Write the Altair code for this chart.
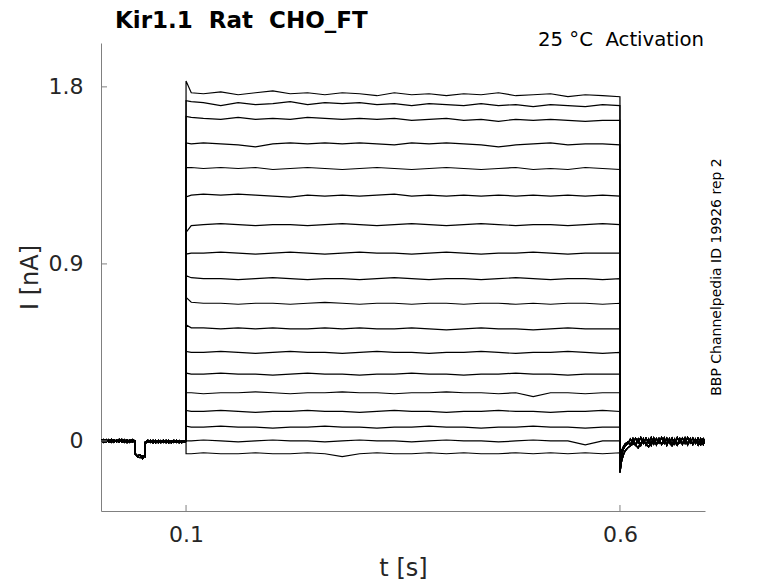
import altair as alt
import pandas as pd

# ---- time grids (s) ----
pre_t = [0.002, 0.005, 0.008, 0.011, 0.014, 0.017, 0.02, 0.023, 0.026, 0.029, 0.032, 0.035,
         0.038, 0.041, 0.041, 0.044, 0.047, 0.05, 0.053, 0.053, 0.056, 0.059, 0.062, 0.065,
         0.068, 0.071, 0.074, 0.077, 0.08, 0.083, 0.086, 0.089, 0.092, 0.095, 0.098, 0.1]
step_t = [0.1, 0.106, 0.12, 0.14, 0.16, 0.18, 0.2, 0.22, 0.24, 0.26, 0.28, 0.3, 0.32, 0.34,
          0.36, 0.38, 0.4, 0.42, 0.44, 0.46, 0.48, 0.5, 0.52, 0.54, 0.56, 0.58, 0.6]
tail_t = [0.6, 0.602, 0.604, 0.606, 0.609, 0.612, 0.615, 0.618, 0.621, 0.624, 0.627, 0.63,
          0.633, 0.636, 0.639, 0.642, 0.645, 0.648, 0.651, 0.654, 0.657, 0.66, 0.663, 0.666,
          0.669, 0.672, 0.675, 0.678, 0.681, 0.684, 0.687, 0.69, 0.693, 0.696, 0.698]

# ---- baseline before the step (nA) ----
pre_a = [0.0, 0.008, -0.006, 0.007, -0.007, 0.006, -0.005, 0.008, -0.006, 0.007, -0.008, 0.006,
         -0.005, 0.0, -0.065, -0.075, -0.07, -0.09, -0.07, -0.01, -0.006, 0.004, -0.01, 0.003,
         -0.009, 0.002, -0.008, 0.003, -0.01, 0.001, -0.008, 0.003, -0.009, 0.001, -0.007, -0.002]
pre_b = [0.006, -0.007, 0.007, -0.006, 0.008, -0.007, 0.006, -0.006, 0.008, -0.007, 0.006, -0.007,
         0.007, 0.0, -0.06, -0.08, -0.085, -0.075, -0.08, -0.005, 0.004, -0.008, 0.003, -0.01,
         0.003, -0.009, 0.004, -0.009, 0.003, -0.01, 0.003, -0.008, 0.002, -0.009, 0.002, 0.0]

# ---- tail after the step (nA) ----
tail_a = [-0.16, -0.1, -0.07, -0.05, -0.035, -0.025, -0.015, -0.02, -0.035, -0.01, 0.0, -0.015,
          -0.03, -0.005, 0.005, -0.01, 0.0, -0.015, -0.005, 0.005, -0.01, -0.025, -0.005, -0.02,
          0.0, -0.01, 0.005, -0.01, 0.0, -0.015, 0.005, -0.005, -0.02, 0.0, -0.01]
tail_b = [-0.12, -0.07, -0.04, -0.025, -0.015, 0.01, -0.015, 0.015, -0.01, 0.018, -0.012, 0.015,
          -0.01, 0.018, -0.015, 0.012, -0.01, 0.018, -0.012, 0.015, -0.01, 0.015, -0.015, 0.018,
          -0.01, 0.015, -0.012, 0.018, -0.01, 0.015, -0.012, 0.015, -0.01, 0.012, 0.0]
tail_c = [-0.09, -0.05, -0.03, -0.015, -0.005, -0.02, 0.012, -0.02, 0.01, -0.022, 0.012, -0.02,
          0.01, -0.022, 0.015, -0.02, 0.012, -0.018, 0.015, -0.022, 0.012, -0.018, 0.01, -0.02,
          0.012, -0.018, 0.015, -0.02, 0.012, -0.018, 0.01, -0.02, 0.012, -0.018, 0.0]

# ---- current during the step, one list per sweep (nA) ----
s01 = [1.83, 1.77, 1.765, 1.775, 1.76, 1.77, 1.78, 1.765, 1.77, 1.76, 1.77, 1.765, 1.755, 1.77,
       1.76, 1.765, 1.755, 1.765, 1.76, 1.77, 1.755, 1.76, 1.765, 1.75, 1.76, 1.755, 1.75]
s02 = [1.73, 1.725, 1.72, 1.705, 1.72, 1.71, 1.715, 1.725, 1.71, 1.72, 1.715, 1.72, 1.71, 1.715,
       1.705, 1.715, 1.71, 1.705, 1.715, 1.705, 1.71, 1.70, 1.71, 1.705, 1.70, 1.71, 1.705]
s03 = [1.65, 1.645, 1.64, 1.635, 1.645, 1.635, 1.64, 1.635, 1.645, 1.64, 1.635, 1.64, 1.635, 1.64,
       1.63, 1.635, 1.64, 1.63, 1.635, 1.625, 1.635, 1.63, 1.635, 1.63, 1.625, 1.63, 1.63]
s04 = [1.515, 1.51, 1.515, 1.51, 1.505, 1.495, 1.51, 1.515, 1.51, 1.515, 1.51, 1.515, 1.51, 1.505,
       1.515, 1.51, 1.515, 1.51, 1.505, 1.495, 1.505, 1.51, 1.515, 1.505, 1.51, 1.51, 1.505]
s05 = [1.39, 1.39, 1.385, 1.39, 1.385, 1.39, 1.38, 1.385, 1.39, 1.385, 1.38, 1.385, 1.39, 1.385,
       1.38, 1.385, 1.39, 1.385, 1.38, 1.385, 1.39, 1.38, 1.385, 1.38, 1.39, 1.385, 1.38]
s06 = [1.24, 1.25, 1.255, 1.25, 1.255, 1.25, 1.245, 1.24, 1.25, 1.245, 1.25, 1.245, 1.25, 1.255,
       1.245, 1.25, 1.245, 1.25, 1.245, 1.25, 1.245, 1.25, 1.245, 1.25, 1.245, 1.25, 1.245]
s07 = [1.06, 1.095, 1.10, 1.105, 1.10, 1.095, 1.10, 1.10, 1.095, 1.10, 1.105, 1.10, 1.095, 1.10,
       1.105, 1.10, 1.095, 1.10, 1.105, 1.10, 1.095, 1.10, 1.10, 1.095, 1.10, 1.105, 1.10]
s08 = [0.95, 0.955, 0.955, 0.96, 0.955, 0.95, 0.955, 0.96, 0.955, 0.95, 0.955, 0.96, 0.955, 0.955,
       0.95, 0.955, 0.96, 0.955, 0.95, 0.955, 0.955, 0.96, 0.955, 0.95, 0.955, 0.955, 0.955]
s09 = [0.84, 0.83, 0.825, 0.825, 0.82, 0.825, 0.83, 0.825, 0.82, 0.825, 0.825, 0.82, 0.825, 0.83,
       0.825, 0.82, 0.825, 0.825, 0.82, 0.825, 0.83, 0.825, 0.82, 0.825, 0.825, 0.82, 0.825]
s10 = [0.73, 0.705, 0.70, 0.70, 0.695, 0.70, 0.70, 0.695, 0.70, 0.705, 0.70, 0.695, 0.70, 0.70,
       0.695, 0.70, 0.70, 0.695, 0.70, 0.70, 0.695, 0.70, 0.695, 0.70, 0.70, 0.695, 0.70]
s11 = [0.59, 0.575, 0.575, 0.57, 0.575, 0.57, 0.575, 0.57, 0.57, 0.575, 0.57, 0.575, 0.57, 0.57,
       0.575, 0.57, 0.565, 0.57, 0.575, 0.57, 0.57, 0.565, 0.57, 0.575, 0.57, 0.57, 0.57]
s12 = [0.455, 0.45, 0.45, 0.455, 0.45, 0.445, 0.45, 0.455, 0.45, 0.45, 0.445, 0.45, 0.455, 0.45,
       0.45, 0.445, 0.45, 0.45, 0.455, 0.45, 0.445, 0.45, 0.45, 0.455, 0.45, 0.445, 0.45]
s13 = [0.345, 0.34, 0.34, 0.345, 0.34, 0.34, 0.335, 0.34, 0.345, 0.34, 0.34, 0.335, 0.34, 0.34,
       0.345, 0.34, 0.34, 0.335, 0.34, 0.34, 0.345, 0.34, 0.34, 0.335, 0.34, 0.34, 0.34]
s14 = [0.245, 0.245, 0.24, 0.245, 0.245, 0.25, 0.245, 0.24, 0.245, 0.245, 0.25, 0.245, 0.245, 0.24,
       0.245, 0.245, 0.25, 0.245, 0.245, 0.24, 0.245, 0.225, 0.245, 0.245, 0.24, 0.245, 0.245]
s15 = [0.155, 0.15, 0.15, 0.155, 0.15, 0.145, 0.15, 0.15, 0.155, 0.15, 0.15, 0.145, 0.15, 0.155,
       0.15, 0.15, 0.145, 0.15, 0.15, 0.155, 0.15, 0.15, 0.145, 0.15, 0.15, 0.155, 0.15]
s16 = [0.075, 0.07, 0.07, 0.075, 0.07, 0.07, 0.065, 0.07, 0.07, 0.075, 0.07, 0.07, 0.065, 0.07,
       0.07, 0.075, 0.07, 0.07, 0.065, 0.07, 0.07, 0.075, 0.07, 0.07, 0.065, 0.07, 0.07]
s17 = [0.0, 0.0, 0.005, 0.0, -0.005, 0.0, 0.005, 0.0, 0.0, -0.005, 0.0, 0.005, 0.0, 0.0,
       -0.005, 0.0, 0.005, 0.0, 0.0, -0.005, 0.0, 0.005, 0.0, 0.0, -0.02, 0.0, 0.0]
s18 = [-0.065, -0.065, -0.06, -0.065, -0.065, -0.06, -0.065, -0.065, -0.06, -0.065, -0.08, -0.065,
       -0.06, -0.065, -0.065, -0.06, -0.065, -0.06, -0.065, -0.065, -0.06, -0.065, -0.06, -0.065,
       -0.06, -0.065, -0.06]

sweeps = [s01, s02, s03, s04, s05, s06, s07, s08, s09, s10, s11, s12, s13, s14, s15, s16, s17, s18]
pres = [pre_a, pre_b]
tails = [tail_a, tail_b, tail_c]

x_ticks = [0.1, 0.6]
y_ticks = [0, 0.9, 1.8]
x_domain = [0.002, 0.698]
y_domain = [-0.356, 2.023]

title_text = "Kir1.1\u00a0\u00a0Rat\u00a0\u00a0CHO_FT"
cond_text = "25\u00a0°C\u00a0\u00a0Activation"
id_text = "BBP Channelpedia ID 19926 rep 2"

rows = []
for i, sw in enumerate(sweeps):
    k = 0
    for t, v in zip(pre_t, pres[i % 2]):
        rows.append({"sweep": i, "k": k, "t": t, "I": v}); k += 1
    for t, v in zip(step_t, sw):
        rows.append({"sweep": i, "k": k, "t": t, "I": v}); k += 1
    for t, v in zip(tail_t, tails[i % 3]):
        rows.append({"sweep": i, "k": k, "t": t, "I": v}); k += 1
df = pd.DataFrame(rows)

FONT = "DejaVu Sans"
GREY = "#262626"
AX = "#808080"

xs = alt.Scale(domain=x_domain, nice=False, zero=False)
ys = alt.Scale(domain=y_domain, nice=False, zero=False)

x_axis = alt.Axis(
    values=x_ticks, labelExpr="format(datum.value, '.1f')", ticks=False, tickSize=0, grid=False,
    domainColor=AX, domainWidth=1,
    labelFont=FONT, labelFontSize=22, labelColor=GREY, labelPadding=13,
    title="t [s]", titleFont=FONT, titleFontSize=24, titleFontWeight="normal",
    titleColor=GREY, titlePadding=11)
y_axis = alt.Axis(
    values=y_ticks, labelExpr="datum.value == 0 ? '0' : format(datum.value, '.1f')",
    ticks=False, tickSize=0, grid=False,
    domainColor=AX, domainWidth=1,
    labelFont=FONT, labelFontSize=22, labelColor=GREY, labelPadding=18,
    title="I [nA]", titleFont=FONT, titleFontSize=24, titleFontWeight="normal",
    titleColor=GREY, titlePadding=6)

lines = alt.Chart(df).mark_line(color="black", strokeWidth=1.2, clip=True).encode(
    x=alt.X("t:Q", scale=xs, axis=x_axis),
    y=alt.Y("I:Q", scale=ys, axis=y_axis),
    detail="sweep:N",
    order="k:Q",
)

xt = alt.Chart(pd.DataFrame({"t": x_ticks})).mark_rule(color=AX, strokeWidth=1).encode(
    x=alt.X("t:Q", scale=xs, axis=x_axis),
    y=alt.value(468), y2=alt.value(462),
)
yt = alt.Chart(pd.DataFrame({"I": y_ticks})).mark_rule(color=AX, strokeWidth=1).encode(
    y=alt.Y("I:Q", scale=ys, axis=y_axis),
    x=alt.value(0), x2=alt.value(6),
)

ttl = alt.Chart(pd.DataFrame({"s": [title_text]})).mark_text(
    font=FONT, fontSize=23, fontWeight="bold", color="black", align="left", baseline="alphabetic"
).encode(text="s:N", x=alt.value(14), y=alt.value(-15))

cond = alt.Chart(pd.DataFrame({"s": [cond_text]})).mark_text(
    font=FONT, fontSize=19.7, color="black", align="right", baseline="middle"
).encode(text="s:N", x=alt.value(603), y=alt.value(-3))

rid = alt.Chart(pd.DataFrame({"s": [id_text]})).mark_text(
    font=FONT, fontSize=14, color="black", align="center", baseline="middle", angle=270
).encode(text="s:N", x=alt.value(616), y=alt.value(234))

chart = alt.layer(lines, xt, yt, ttl, cond, rid).properties(
    width=604, height=468,
    padding={"left": 93, "top": 35, "right": 65, "bottom": 72},
    autosize=alt.AutoSizeParams(type="none"),
).configure_view(strokeWidth=0)

chart.save("out.html", embed_options={"renderer": "svg", "actions": False})
